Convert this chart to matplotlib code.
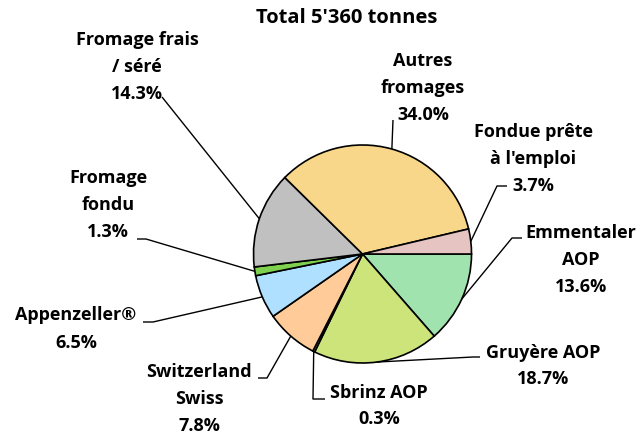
import matplotlib
matplotlib.use("Agg")
import matplotlib.pyplot as plt
import numpy as np

title = "Total 5'360 tonnes"
categories = ["Emmentaler\nAOP", "Gruyère AOP", "Sbrinz AOP", "Switzerland\nSwiss",
              "Appenzeller®", "Fromage\nfondu", "Fromage frais\n/ séré",
              "Autres\nfromages", "Fondue prête\nà l'emploi"]
values = [13.6, 18.7, 0.3, 7.8, 6.5, 1.3, 14.3, 34.0, 3.7]
colors = ["#A0E3AE", "#CDE47B", "#8CC85A", "#FFCC99", "#B0E0FF", "#7ED04E",
          "#C0C0C0", "#F8D78A", "#E6C4C1"]

# layout (pixel space, y measured from top)
W, H = 641, 436
cx, cy, R = 362.5, 254, 109
# label block centre, elbow point, leader end near text (None -> straight)
label_pos = [(581, 260), (543, 366), (379, 406), (199, 399), (76, 329),
             (108, 205), (137, 67), (423, 88), (533, 159)]
elbows = [(512, 238), (473, 357), (313, 399), (267, 378), (153, 322),
          (146, 239), None, None, (497, 186)]
ends = [(522, 238), (480, 357), (325, 399), (258, 378), (143, 322),
        (137, 239), (162, 97), (393, 120), (507, 186)]

fig = plt.figure(figsize=(W / 100, H / 100), dpi=100)
ax = fig.add_axes([0, 0, 1, 1])
ax.set_xlim(0, W)
ax.set_ylim(0, H)
ax.set_aspect("equal")
ax.axis("off")

wedges, _ = ax.pie(values, colors=colors, startangle=0, counterclock=False,
                   center=(cx, H - cy), radius=R,
                   wedgeprops=dict(edgecolor="black", linewidth=1.2))
ax.set_xlim(0, W)
ax.set_ylim(0, H)

font = dict(family=["Open Sans", "DejaVu Sans"], fontweight="bold", color="black")

for i, (lab, v) in enumerate(zip(categories, values)):
    w = wedges[i]
    mid = np.deg2rad((w.theta1 + w.theta2) / 2)
    px, py = cx + R * np.cos(mid), (H - cy) + R * np.sin(mid)
    pts = [(px, py)]
    if elbows[i] is not None:
        pts.append((elbows[i][0], H - elbows[i][1]))
    pts.append((ends[i][0], H - ends[i][1]))
    xs, ys = zip(*pts)
    ax.plot(xs, ys, color="black", lw=1.0, solid_capstyle="butt")
    lines = lab.split("\n") + [f"{v:.1f}%"]
    n = len(lines)
    tx, ty = label_pos[i]
    for j, ln in enumerate(lines):
        yy = ty + (j - (n - 1) / 2) * 27
        ax.text(tx, H - yy, ln, ha="center", va="center", fontsize=13.0, **font)

ax.text(347, H - 18, title, ha="center", va="center", fontsize=14.5, **font)

fig.savefig("out.png", dpi=100)
